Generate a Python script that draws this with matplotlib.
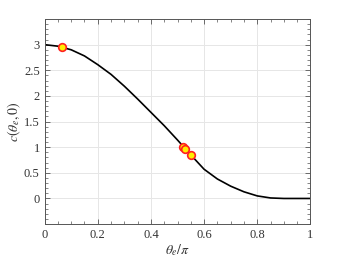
import matplotlib
matplotlib.use("Agg")
import matplotlib.pyplot as plt
from matplotlib.ticker import MultipleLocator

plt.rcParams['font.family'] = ['Liberation Serif', 'DejaVu Serif']
plt.rcParams['mathtext.fontset'] = 'stix'

theta = [0.0, 0.05, 0.1, 0.15, 0.2, 0.25, 0.3, 0.35, 0.4, 0.45, 0.5, 0.55, 0.6, 0.65, 0.7, 0.75, 0.8, 0.85, 0.9, 0.95, 1.0]
c_vals = [3.0, 2.97, 2.90, 2.78, 2.61, 2.42, 2.19, 1.94, 1.68, 1.42, 1.14, 0.85, 0.57, 0.38, 0.24, 0.13, 0.05, 0.01, 0.0, 0.0, 0.0]
marker_x = [0.067, 0.52, 0.53, 0.55]
marker_y = [2.95, 1.0, 0.97, 0.85]

fig = plt.figure(figsize=(3.43, 2.57), dpi=100)
ax = fig.add_axes([0.130, 0.128, 0.775, 0.798])
ax.plot(theta, c_vals, color='black', lw=1.2, zorder=2)
ax.plot(marker_x, marker_y, 'o', ms=5.5, mfc='#ffee00', mec='#ff2020', mew=1.2, zorder=3)

ax.set_xlim(0, 1)
ax.set_ylim(-0.5, 3.5)
ax.xaxis.set_minor_locator(MultipleLocator(0.05))
ax.yaxis.set_minor_locator(MultipleLocator(0.1))
ax.set_yticks([0, 0.5, 1, 1.5, 2, 2.5, 3])
ax.set_yticklabels(['0', '0.5', '1', '1.5', '2', '2.5', '3'])
ax.set_xticks([0, 0.2, 0.4, 0.6, 0.8, 1])
ax.set_xticklabels(['0', '0.2', '0.4', '0.6', '0.8', '1'])
ax.grid(True, which='major', color='#e6e6e6', lw=0.7)
ax.set_axisbelow(True)
ax.tick_params(which='both', direction='in', top=True, right=True, colors='#555555', labelcolor='#333333', labelsize=9)
ax.tick_params(which='major', length=3.5, width=0.6)
ax.tick_params(which='minor', length=2, width=0.5)
for s in ax.spines.values():
    s.set_color('#555555')
    s.set_linewidth(0.7)
ax.set_xlabel(r'$\theta_e/\pi$', fontsize=10, color='#333333', labelpad=1)
ax.set_ylabel(r'$c(\theta_e,0)$', fontsize=10, color='#333333', labelpad=1)
fig.savefig('out.png', dpi=100)
